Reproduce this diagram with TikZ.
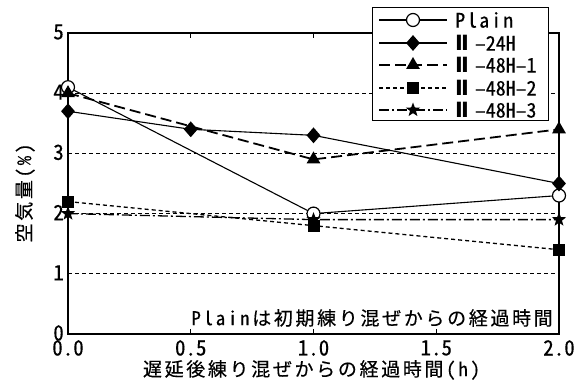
\documentclass[tikz,border=0pt]{standalone}
\usepackage{fontspec}
\setmainfont{Noto Sans CJK JP}[CharacterWidth=Half,FakeBold=0.3]
\newfontfamily\lsfont{Noto Sans CJK JP}[CharacterWidth=Half,LetterSpace=14,FakeBold=0.3]
\newfontfamily\romfont{DejaVu Sans}
\usetikzlibrary{shapes.geometric}
\tikzset{
  gridline/.style={line width=0.9pt,dash pattern=on 4pt off 3pt},
  frame/.style={line width=1.8pt},
  tickmark/.style={line width=1pt},
  serplain/.style={line width=1.1pt},
  ser24/.style={line width=1.1pt},
  ser481/.style={line width=1.8pt,dash pattern=on 11pt off 5pt},
  ser482/.style={line width=1.3pt,dash pattern=on 4pt off 3pt},
  ser483/.style={line width=1.3pt,dash pattern=on 10pt off 3pt on 2pt off 3pt},
  mcirc/.style={circle,draw,fill=white,line width=1.2pt,minimum size=13pt,inner sep=0pt},
  mdiam/.style={diamond,fill=black,minimum width=14pt,minimum height=16pt,inner sep=0pt},
  mtri/.style={regular polygon,regular polygon sides=3,fill=black,minimum size=16pt,inner sep=0pt},
  msq/.style={rectangle,fill=black,minimum size=12pt,inner sep=0pt},
  mstar/.style={star,star points=5,star point ratio=2.4,fill=black,minimum size=15pt,inner sep=0pt},
  ticklab/.style={font=\fontsize{21}{21}\selectfont,inner sep=0pt},
  legtext/.style={font=\fontsize{20}{20}\selectfont,anchor=west,inner sep=0pt},
  titletext/.style={font=\lsfont\fontsize{19}{19}\selectfont,inner sep=0pt},
  legendbox/.style={draw,fill=white,line width=1pt,inner sep=0pt}
}
\newcommand{\romtwo}{{\romfont\bfseries\fontsize{21}{21}\selectfont Ⅱ}\hspace{6pt}}
\begin{document}
\begin{tikzpicture}[x=1pt,y=1pt]
\useasboundingbox[fill=white] (0,0) rectangle (581,383);
\begin{scope}[shift={(68,49)},x=245.5pt,y=60.2pt]
  % grid
  \foreach \v in {1,2,3,4} \draw[gridline] (0,\v) -- (2,\v);
  % ticks
  \foreach \u in {0.5,1,1.5} {
    \draw[tickmark] (\u,0) -- ++(0,5pt);
    \draw[tickmark] (\u,5) -- ++(0,-5pt);
  }
  \draw[frame] (0,0) rectangle (2,5);
  % tick labels
  \foreach \v in {0,1,2,3,4,5} \node[ticklab,anchor=east] (yl\v) at ([xshift=-4pt,yshift=1pt]0,\v) {\v};
  \foreach \u/\t in {0/0.0,0.5/0.5,1/1.0,1.5/1.5,2/2.0} \node[ticklab] (xl\t) at ([yshift=-14pt]\u,0) {\t};
  % data coordinates
  \coordinate (a0) at (0,4.1); \coordinate (a1) at (1,2.0); \coordinate (a2) at (2,2.3);
  \coordinate (b0) at (0,3.7); \coordinate (b1) at (0.5,3.4); \coordinate (b2) at (1,3.3); \coordinate (b3) at (2,2.5);
  \coordinate (c0) at (0,4.0); \coordinate (c1) at (1,2.9); \coordinate (c2) at (2,3.4);
  \coordinate (d0) at (0,2.2); \coordinate (d1) at (1,1.8); \coordinate (d2) at (2,1.4);
  \coordinate (e0) at (0,2.0); \coordinate (e1) at (1,1.9); \coordinate (e2) at (2,1.9);
  % lines
  \draw[serplain] (a0) -- (a1) -- (a2);
  \draw[ser24] (b0) -- (b1) -- (b2) -- (b3);
  \draw[ser481] (c0) -- (c1) -- (c2);
  \draw[ser482] (d0) -- (d1) -- (d2);
  \draw[ser483] (e0) -- (e1) -- (e2);
  % markers
  \foreach \p in {a0,a1,a2} \node[mcirc] (m\p) at (\p) {};
  \foreach \p in {b0,b1,b2,b3} \node[mdiam] (m\p) at (\p) {};
  \foreach \p in {c0,c1,c2} \node[mtri] (m\p) at (\p) {};
  \foreach \p in {d0,d1,d2} \node[msq] (m\p) at (\p) {};
  \foreach \p in {e0,e1,e2} \node[mstar] (m\p) at (\p) {};
\end{scope}
% axis titles
\node[titletext] (xtitle) at (311.5,13) {遅延後練り混ぜからの経過時間(h)};
\node[titletext,rotate=90] (ytitle) at (25,190) {空気量(\%)};
% note
\node[titletext,anchor=east] (note) at (553,65) {Plainは初期練り混ぜからの経過時間};
% legend
\node[legendbox,minimum width=176pt,minimum height=113pt] (legend) at (460,318.5) {};
\foreach \y/\s/\m/\t [count=\i] in {363/serplain/mcirc/{\addfontfeature{LetterSpace=10}Plain},340/ser24/mdiam/\romtwo–24H,318/ser481/mtri/\romtwo–48H–1,295/ser482/msq/\romtwo–48H–2,273/ser483/mstar/\romtwo–48H–3} {
  \coordinate (ls\i) at (379,\y);
  \coordinate (le\i) at (447,\y);
  \draw[\s] (ls\i) -- (le\i);
  \node[\m] (lm\i) at (413,\y) {};
  \node[legtext] (lt\i) at (455,\y) {\t};
}
\end{tikzpicture}
\end{document}
